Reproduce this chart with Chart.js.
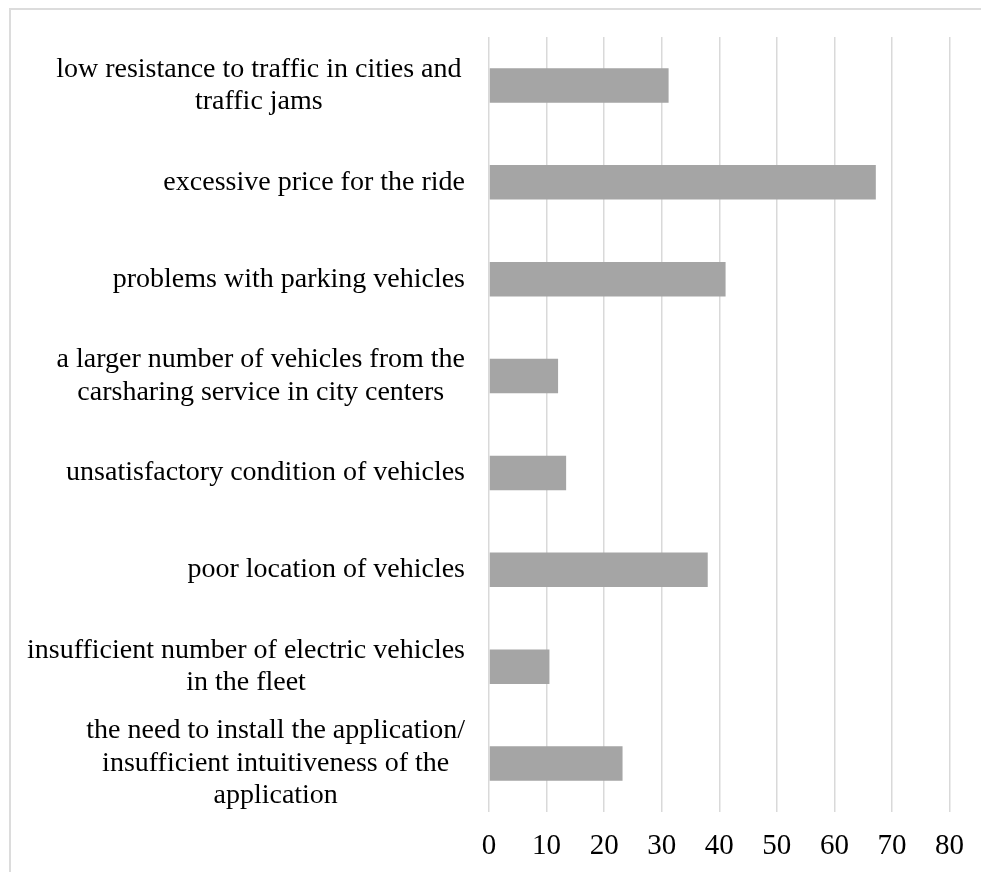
<!DOCTYPE html>
<html>
<head>
<meta charset="utf-8">
<script src="https://cdn.jsdelivr.net/npm/chart.js@4"></script>
<style>
  html, body { margin: 0; padding: 0; background: #fff; overflow: hidden; }
  #wrap { position: relative; width: 981px; height: 872px; }
  #frame {
    position: absolute; left: 9px; top: 8px; width: 1000px; height: 900px;
    border-left: 2px solid #dcdcdc; border-top: 2px solid #dcdcdc;
  }
  #graficoBarras { position: absolute; left: 0; top: 0; }
</style>
</head>
<body>
<div id="wrap">
  <div id="frame"></div>
  <canvas id="graficoBarras" width="981" height="872"></canvas>
</div>
<script>
// categorias (cada linha do rótulo separada) e valores em %
const categorias = [
  ["low resistance to traffic in cities and ", "traffic jams"],
  ["excessive price for the ride"],
  ["problems with parking vehicles"],
  ["a larger number of vehicles from the", "carsharing service in city centers"],
  ["unsatisfactory condition of vehicles"],
  ["poor location of vehicles"],
  ["insufficient number of electric vehicles", "in the fleet"],
  ["the need to install the application/", "insufficient intuitiveness of the", "application"]
];
const valores = [31.2, 67.2, 41.1, 12.0, 13.4, 38.0, 10.5, 23.2];
const eixoMin = 0, eixoMax = 80, eixoPasso = 10;

const fonteSerif = '"Liberation Serif", "Times New Roman", serif';

// rótulos das categorias: bloco alinhado à direita, linhas centralizadas entre si
const rotulosCategorias = {
  id: 'rotulosCategorias',
  afterDraw(chart) {
    const { ctx, scales: { y }, chartArea } = chart;
    const direita = chartArea.left - 24;
    const alturaLinha = 32.5;
    ctx.save();
    ctx.font = '28px ' + fonteSerif;
    ctx.fillStyle = '#000';
    ctx.textAlign = 'center';
    ctx.textBaseline = 'middle';
    categorias.forEach((linhas, i) => {
      const larg = Math.max(...linhas.map(l => ctx.measureText(l).width));
      const cx = direita - larg / 2;
      const cy = y.getPixelForValue(i);
      linhas.forEach((l, j) => {
        ctx.fillText(l.trim(), cx, cy + (j - (linhas.length - 1) / 2) * alturaLinha);
      });
    });
    ctx.restore();
  }
};

new Chart(document.getElementById('graficoBarras'), {
  type: 'bar',
  data: {
    labels: categorias.map(l => l.map(s => s.trim()).join(' ')),
    datasets: [{
      data: valores,
      backgroundColor: '#a5a5a5',
      borderWidth: 0,
      barPercentage: 0.356,
      categoryPercentage: 1
    }]
  },
  options: {
    indexAxis: 'y',
    responsive: false,
    animation: false,
    layout: { padding: { left: 489, right: 31, top: 37, bottom: 8 } },
    plugins: { legend: { display: false }, tooltip: { enabled: false } },
    scales: {
      x: {
        min: eixoMin,
        max: eixoMax,
        afterFit(s) { s.height = 52; },
        ticks: {
          stepSize: eixoPasso,
          padding: 17,
          color: '#000',
          font: { family: fonteSerif, size: 29, lineHeight: 1.2 }
        },
        grid: { color: '#d9d9d9', lineWidth: 1.5, drawTicks: false },
        border: { display: false }
      },
      y: { display: false }
    }
  },
  plugins: [rotulosCategorias]
});
</script>
</body>
</html>
